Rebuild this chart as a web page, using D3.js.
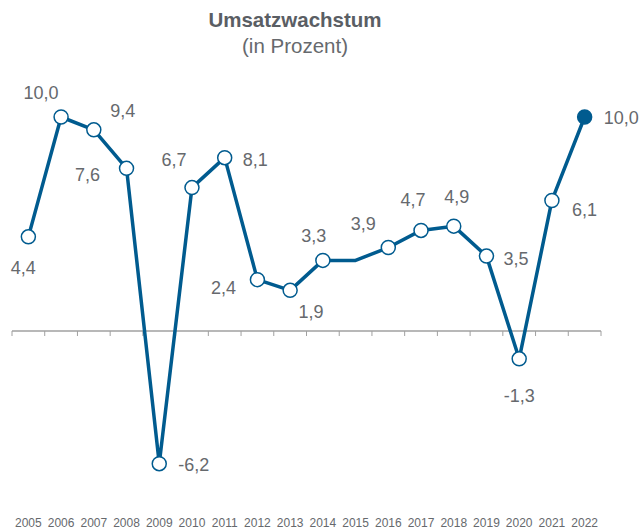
<!DOCTYPE html>
<html>
<head>
<meta charset="utf-8">
<script src="https://cdn.jsdelivr.net/npm/d3@7"></script>
<style>
  body { margin: 0; background: #fff; }
  text { font-family: "Liberation Sans", Arial, sans-serif; }
</style>
</head>
<body>
<div id="chart"></div>
<script>
// Umsatzwachstum - line chart

// Data
var years = ["2005", "2006", "2007", "2008", "2009", "2010", "2011", "2012", "2013",
             "2014", "2015", "2016", "2017", "2018", "2019", "2020", "2021", "2022"];
var growth = [4.4, 10.0, 9.4, 7.6, -6.2, 6.7, 8.1, 2.4, 1.9,
              3.3, 3.3, 3.9, 4.7, 4.9, 3.5, -1.3, 6.1, 10.0];
// 2015 is drawn without marker and without label in the original
var showPoint = [1, 1, 1, 1, 1, 1, 1, 1, 1, 1, 0, 1, 1, 1, 1, 1, 1, 1];

var svgWidth = 640;
var svgHeight = 530;

var blue = "#005b8f";
var grey = "#66696d";

var svg = d3.select("#chart")
    .append("svg")
    .attr("width", svgWidth)
    .attr("height", svgHeight);

// Scales
var xScale = d3.scaleBand()
    .domain(years)
    .range([12, 601]);

var yScale = d3.scaleLinear()
    .domain([0, 10])
    .range([331, 117]);

var cx = d => xScale(d.year) + xScale.bandwidth() / 2;
var cy = d => yScale(d.value);

var data = years.map((y, i) => ({ year: y, value: growth[i], show: showPoint[i], last: i === years.length - 1 }));

// Title
svg.append("text")
    .attr("x", 295)
    .attr("y", 27)
    .attr("text-anchor", "middle")
    .style("font-size", "20.5px")
    .style("font-weight", "bold")
    .style("fill", "#5a5e64")
    .text("Umsatzwachstum");

svg.append("text")
    .attr("x", 295)
    .attr("y", 53)
    .attr("text-anchor", "middle")
    .style("font-size", "20.5px")
    .style("fill", grey)
    .text("(in Prozent)");

// X axis at zero, ticks between the categories
var axis = svg.append("g");
axis.append("line")
    .attr("x1", 12).attr("x2", 601)
    .attr("y1", yScale(0)).attr("y2", yScale(0))
    .attr("stroke", "#a0a0a0")
    .attr("stroke-width", 1.5);

axis.selectAll(".tick")
    .data(years.concat(["end"]))
    .enter()
    .append("line")
    .attr("x1", (d, i) => 12 + i * xScale.step())
    .attr("x2", (d, i) => 12 + i * xScale.step())
    .attr("y1", yScale(0))
    .attr("y2", yScale(0) + 5)
    .attr("stroke", "#a0a0a0")
    .attr("stroke-width", 1);

axis.selectAll(".year")
    .data(years)
    .enter()
    .append("text")
    .attr("x", d => xScale(d) + xScale.bandwidth() / 2)
    .attr("y", 527)
    .attr("text-anchor", "middle")
    .style("font-size", "12px")
    .style("fill", grey)
    .text(d => d);

// Line
var line = d3.line().x(cx).y(cy);

svg.append("path")
    .datum(data)
    .attr("d", line)
    .attr("fill", "none")
    .attr("stroke", blue)
    .attr("stroke-width", 3.5)
    .attr("stroke-linejoin", "round");

// Markers
svg.selectAll(".dot")
    .data(data.filter(d => d.show))
    .enter()
    .append("circle")
    .attr("cx", cx)
    .attr("cy", cy)
    .attr("r", 7)
    .attr("fill", d => d.last ? blue : "#fff")
    .attr("stroke", blue)
    .attr("stroke-width", 1.5);

// Label placement [dx, dy, anchor] relative to the point
var place = {
    "2005": [-5, 37, "middle"],
    "2006": [-20, -18, "middle"],
    "2007": [29, -13, "middle"],
    "2008": [-39, 13, "middle"],
    "2009": [19, 7, "start"],
    "2010": [-18, -22, "middle"],
    "2011": [18, 8, "start"],
    "2012": [-34, 14, "middle"],
    "2013": [21, 28, "middle"],
    "2014": [-9, -18, "middle"],
    "2016": [-25, -18, "middle"],
    "2017": [-8, -24, "middle"],
    "2018": [3, -23, "middle"],
    "2019": [17, 9, "start"],
    "2020": [0, 43, "middle"],
    "2021": [20, 16, "start"],
    "2022": [19, 7, "start"]
};

var fmt = v => d3.format(".1f")(v).replace(".", ",").replace("−", "-");

svg.selectAll(".label")
    .data(data.filter(d => d.show))
    .enter()
    .append("text")
    .attr("x", d => cx(d) + place[d.year][0])
    .attr("y", d => cy(d) + place[d.year][1])
    .attr("text-anchor", d => place[d.year][2])
    .style("font-size", "18px")
    .style("fill", grey)
    .text(d => fmt(d.value));
</script>
</body>
</html>
